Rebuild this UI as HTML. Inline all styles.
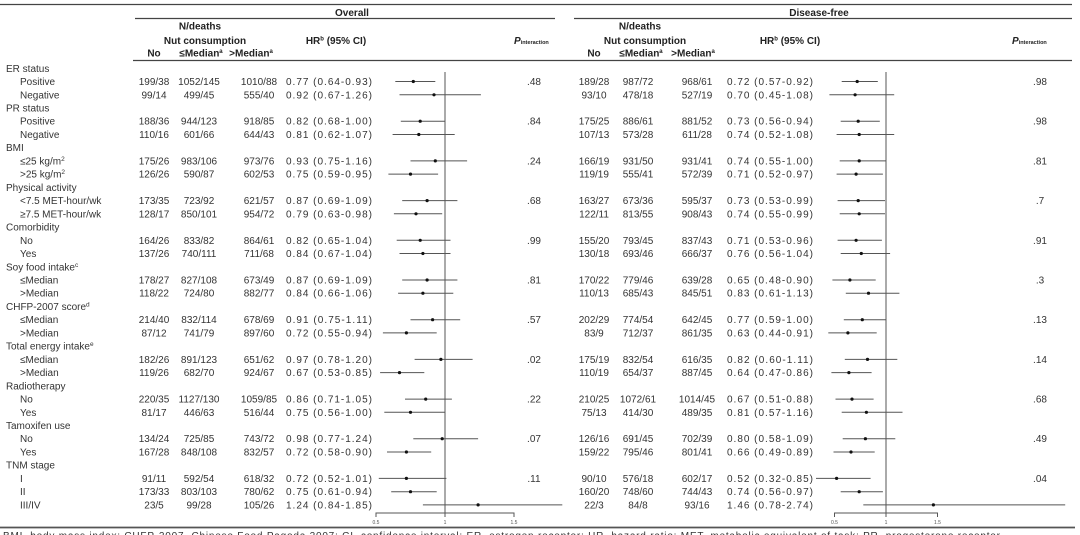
<!DOCTYPE html>
<html>
<head>
<meta charset="utf-8">
<style>
  html,body{margin:0;padding:0;background:#fff;}
  svg{display:block;}
  text{font-family:"Liberation Sans",Arial,sans-serif;font-size:10px;fill:#333;}
  .b{font-weight:bold;fill:#222;}
  .m{text-anchor:middle;}
  .e{text-anchor:end;}
  .t{font-size:5px;fill:#555;text-anchor:middle;}
  .ln{stroke:#555;stroke-width:1;fill:none;}
  .rule{stroke:#444;stroke-width:1.2;}
</style>
</head>
<body>
<svg width="1080" height="535" viewBox="0 0 1080 535" xmlns="http://www.w3.org/2000/svg">
<!-- header rules -->
<line class="rule" x1="0" y1="4.5" x2="1072" y2="4.5"/>
<line class="rule" x1="135" y1="18.5" x2="555" y2="18.5"/>
<line class="rule" x1="574" y1="18.5" x2="1072" y2="18.5"/>
<line class="rule" x1="133" y1="60.5" x2="1072" y2="60.5"/>
<line x1="0" y1="527.5" x2="1075" y2="527.5" stroke="#555" stroke-width="1.8"/>

<!-- header text -->
<text class="b m" x="352" y="16">Overall</text>
<text class="b m" x="819" y="16">Disease-free</text>
<text class="b m" x="200" y="29.5">N/deaths</text>
<text class="b m" x="205" y="44">Nut consumption</text>
<text class="b m" x="640" y="29.5">N/deaths</text>
<text class="b m" x="645" y="44">Nut consumption</text>
<text class="b m" x="154" y="56.5">No</text>
<text class="b m" x="201" y="56.5">≤Median<tspan font-size="6" dy="-3.5">a</tspan></text>
<text class="b m" x="251" y="56.5">&gt;Median<tspan font-size="6" dy="-3.5">a</tspan></text>
<text class="b m" x="594" y="56.5">No</text>
<text class="b m" x="641" y="56.5">≤Median<tspan font-size="6" dy="-3.5">a</tspan></text>
<text class="b m" x="693" y="56.5">&gt;Median<tspan font-size="6" dy="-3.5">a</tspan></text>
<text class="b m" x="336" y="44">HR<tspan font-size="6" dy="-3.5">b</tspan><tspan dy="3.5"> (95% CI)</tspan></text>
<text class="b m" x="790" y="44">HR<tspan font-size="6" dy="-3.5">b</tspan><tspan dy="3.5"> (95% CI)</tspan></text>
<text class="b" x="514" y="44" font-style="italic">P<tspan font-size="5.5" font-style="normal">interaction</tspan></text>
<text class="b" x="1012" y="44" font-style="italic">P<tspan font-size="5.5" font-style="normal">interaction</tspan></text>

<!-- row labels -->
<g>
<text x="6" y="71.8">ER status</text>
<text x="20" y="85.0">Positive</text>
<text x="20" y="98.3">Negative</text>
<text x="6" y="111.5">PR status</text>
<text x="20" y="124.7">Positive</text>
<text x="20" y="138.0">Negative</text>
<text x="6" y="151.2">BMI</text>
<text x="20" y="164.4">≤25 kg/m<tspan font-size="6.5" dy="-3.5">2</tspan></text>
<text x="20" y="177.6">&gt;25 kg/m<tspan font-size="6.5" dy="-3.5">2</tspan></text>
<text x="6" y="190.9">Physical activity</text>
<text x="20" y="204.1">&lt;7.5 MET-hour/wk</text>
<text x="20" y="217.3">≥7.5 MET-hour/wk</text>
<text x="6" y="230.6">Comorbidity</text>
<text x="20" y="243.8">No</text>
<text x="20" y="257.0">Yes</text>
<text x="6" y="270.3">Soy food intake<tspan font-size="6.5" dy="-3.5">c</tspan></text>
<text x="20" y="283.5">≤Median</text>
<text x="20" y="296.7">&gt;Median</text>
<text x="6" y="309.9">CHFP-2007 score<tspan font-size="6.5" dy="-3.5">d</tspan></text>
<text x="20" y="323.2">≤Median</text>
<text x="20" y="336.4">&gt;Median</text>
<text x="6" y="349.6">Total energy intake<tspan font-size="6.5" dy="-3.5">e</tspan></text>
<text x="20" y="362.9">≤Median</text>
<text x="20" y="376.1">&gt;Median</text>
<text x="6" y="389.3">Radiotherapy</text>
<text x="20" y="402.6">No</text>
<text x="20" y="415.8">Yes</text>
<text x="6" y="429.0">Tamoxifen use</text>
<text x="20" y="442.2">No</text>
<text x="20" y="455.5">Yes</text>
<text x="6" y="468.7">TNM stage</text>
<text x="20" y="481.9">I</text>
<text x="20" y="495.2">II</text>
<text x="20" y="508.4">III/IV</text>
</g>

<!-- Overall: No column -->
<g class="m">
<text class="m" x="154" y="85.0">199/38</text>
<text class="m" x="154" y="98.3">99/14</text>
<text class="m" x="154" y="124.7">188/36</text>
<text class="m" x="154" y="138.0">110/16</text>
<text class="m" x="154" y="164.4">175/26</text>
<text class="m" x="154" y="177.6">126/26</text>
<text class="m" x="154" y="204.1">173/35</text>
<text class="m" x="154" y="217.3">128/17</text>
<text class="m" x="154" y="243.8">164/26</text>
<text class="m" x="154" y="257.0">137/26</text>
<text class="m" x="154" y="283.5">178/27</text>
<text class="m" x="154" y="296.7">118/22</text>
<text class="m" x="154" y="323.2">214/40</text>
<text class="m" x="154" y="336.4">87/12</text>
<text class="m" x="154" y="362.9">182/26</text>
<text class="m" x="154" y="376.1">119/26</text>
<text class="m" x="154" y="402.6">220/35</text>
<text class="m" x="154" y="415.8">81/17</text>
<text class="m" x="154" y="442.2">134/24</text>
<text class="m" x="154" y="455.5">167/28</text>
<text class="m" x="154" y="481.9">91/11</text>
<text class="m" x="154" y="495.2">173/33</text>
<text class="m" x="154" y="508.4">23/5</text>
</g>
<!-- Overall: <=Median -->
<g>
<text class="m" x="199" y="85.0">1052/145</text>
<text class="m" x="199" y="98.3">499/45</text>
<text class="m" x="199" y="124.7">944/123</text>
<text class="m" x="199" y="138.0">601/66</text>
<text class="m" x="199" y="164.4">983/106</text>
<text class="m" x="199" y="177.6">590/87</text>
<text class="m" x="199" y="204.1">723/92</text>
<text class="m" x="199" y="217.3">850/101</text>
<text class="m" x="199" y="243.8">833/82</text>
<text class="m" x="199" y="257.0">740/111</text>
<text class="m" x="199" y="283.5">827/108</text>
<text class="m" x="199" y="296.7">724/80</text>
<text class="m" x="199" y="323.2">832/114</text>
<text class="m" x="199" y="336.4">741/79</text>
<text class="m" x="199" y="362.9">891/123</text>
<text class="m" x="199" y="376.1">682/70</text>
<text class="m" x="199" y="402.6">1127/130</text>
<text class="m" x="199" y="415.8">446/63</text>
<text class="m" x="199" y="442.2">725/85</text>
<text class="m" x="199" y="455.5">848/108</text>
<text class="m" x="199" y="481.9">592/54</text>
<text class="m" x="199" y="495.2">803/103</text>
<text class="m" x="199" y="508.4">99/28</text>
</g>
<!-- Overall: >Median -->
<g>
<text class="m" x="259" y="85.0">1010/88</text>
<text class="m" x="259" y="98.3">555/40</text>
<text class="m" x="259" y="124.7">918/85</text>
<text class="m" x="259" y="138.0">644/43</text>
<text class="m" x="259" y="164.4">973/76</text>
<text class="m" x="259" y="177.6">602/53</text>
<text class="m" x="259" y="204.1">621/57</text>
<text class="m" x="259" y="217.3">954/72</text>
<text class="m" x="259" y="243.8">864/61</text>
<text class="m" x="259" y="257.0">711/68</text>
<text class="m" x="259" y="283.5">673/49</text>
<text class="m" x="259" y="296.7">882/77</text>
<text class="m" x="259" y="323.2">678/69</text>
<text class="m" x="259" y="336.4">897/60</text>
<text class="m" x="259" y="362.9">651/62</text>
<text class="m" x="259" y="376.1">924/67</text>
<text class="m" x="259" y="402.6">1059/85</text>
<text class="m" x="259" y="415.8">516/44</text>
<text class="m" x="259" y="442.2">743/72</text>
<text class="m" x="259" y="455.5">832/57</text>
<text class="m" x="259" y="481.9">618/32</text>
<text class="m" x="259" y="495.2">780/62</text>
<text class="m" x="259" y="508.4">105/26</text>
</g>
<!-- Overall HR -->
<g>
<text x="286" y="85.0" textLength="86" lengthAdjust="spacing">0.77 (0.64-0.93)</text>
<text x="286" y="98.3" textLength="86" lengthAdjust="spacing">0.92 (0.67-1.26)</text>
<text x="286" y="124.7" textLength="86" lengthAdjust="spacing">0.82 (0.68-1.00)</text>
<text x="286" y="138.0" textLength="86" lengthAdjust="spacing">0.81 (0.62-1.07)</text>
<text x="286" y="164.4" textLength="86" lengthAdjust="spacing">0.93 (0.75-1.16)</text>
<text x="286" y="177.6" textLength="86" lengthAdjust="spacing">0.75 (0.59-0.95)</text>
<text x="286" y="204.1" textLength="86" lengthAdjust="spacing">0.87 (0.69-1.09)</text>
<text x="286" y="217.3" textLength="86" lengthAdjust="spacing">0.79 (0.63-0.98)</text>
<text x="286" y="243.8" textLength="86" lengthAdjust="spacing">0.82 (0.65-1.04)</text>
<text x="286" y="257.0" textLength="86" lengthAdjust="spacing">0.84 (0.67-1.04)</text>
<text x="286" y="283.5" textLength="86" lengthAdjust="spacing">0.87 (0.69-1.09)</text>
<text x="286" y="296.7" textLength="86" lengthAdjust="spacing">0.84 (0.66-1.06)</text>
<text x="286" y="323.2" textLength="86" lengthAdjust="spacing">0.91 (0.75-1.11)</text>
<text x="286" y="336.4" textLength="86" lengthAdjust="spacing">0.72 (0.55-0.94)</text>
<text x="286" y="362.9" textLength="86" lengthAdjust="spacing">0.97 (0.78-1.20)</text>
<text x="286" y="376.1" textLength="86" lengthAdjust="spacing">0.67 (0.53-0.85)</text>
<text x="286" y="402.6" textLength="86" lengthAdjust="spacing">0.86 (0.71-1.05)</text>
<text x="286" y="415.8" textLength="86" lengthAdjust="spacing">0.75 (0.56-1.00)</text>
<text x="286" y="442.2" textLength="86" lengthAdjust="spacing">0.98 (0.77-1.24)</text>
<text x="286" y="455.5" textLength="86" lengthAdjust="spacing">0.72 (0.58-0.90)</text>
<text x="286" y="481.9" textLength="86" lengthAdjust="spacing">0.72 (0.52-1.01)</text>
<text x="286" y="495.2" textLength="86" lengthAdjust="spacing">0.75 (0.61-0.94)</text>
<text x="286" y="508.4" textLength="86" lengthAdjust="spacing">1.24 (0.84-1.85)</text>
</g>
<!-- Overall P -->
<g>
<text class="m" x="534" y="85.0">.48</text>
<text class="m" x="534" y="124.7">.84</text>
<text class="m" x="534" y="164.4">.24</text>
<text class="m" x="534" y="204.1">.68</text>
<text class="m" x="534" y="243.8">.99</text>
<text class="m" x="534" y="283.5">.81</text>
<text class="m" x="534" y="323.2">.57</text>
<text class="m" x="534" y="362.9">.02</text>
<text class="m" x="534" y="402.6">.22</text>
<text class="m" x="534" y="442.2">.07</text>
<text class="m" x="534" y="481.9">.11</text>
</g>

<!-- DF: No -->
<g>
<text class="m" x="594" y="85.0">189/28</text>
<text class="m" x="594" y="98.3">93/10</text>
<text class="m" x="594" y="124.7">175/25</text>
<text class="m" x="594" y="138.0">107/13</text>
<text class="m" x="594" y="164.4">166/19</text>
<text class="m" x="594" y="177.6">119/19</text>
<text class="m" x="594" y="204.1">163/27</text>
<text class="m" x="594" y="217.3">122/11</text>
<text class="m" x="594" y="243.8">155/20</text>
<text class="m" x="594" y="257.0">130/18</text>
<text class="m" x="594" y="283.5">170/22</text>
<text class="m" x="594" y="296.7">110/13</text>
<text class="m" x="594" y="323.2">202/29</text>
<text class="m" x="594" y="336.4">83/9</text>
<text class="m" x="594" y="362.9">175/19</text>
<text class="m" x="594" y="376.1">110/19</text>
<text class="m" x="594" y="402.6">210/25</text>
<text class="m" x="594" y="415.8">75/13</text>
<text class="m" x="594" y="442.2">126/16</text>
<text class="m" x="594" y="455.5">159/22</text>
<text class="m" x="594" y="481.9">90/10</text>
<text class="m" x="594" y="495.2">160/20</text>
<text class="m" x="594" y="508.4">22/3</text>
</g>
<!-- DF: <=Median -->
<g>
<text class="m" x="638" y="85.0">987/72</text>
<text class="m" x="638" y="98.3">478/18</text>
<text class="m" x="638" y="124.7">886/61</text>
<text class="m" x="638" y="138.0">573/28</text>
<text class="m" x="638" y="164.4">931/50</text>
<text class="m" x="638" y="177.6">555/41</text>
<text class="m" x="638" y="204.1">673/36</text>
<text class="m" x="638" y="217.3">813/55</text>
<text class="m" x="638" y="243.8">793/45</text>
<text class="m" x="638" y="257.0">693/46</text>
<text class="m" x="638" y="283.5">779/46</text>
<text class="m" x="638" y="296.7">685/43</text>
<text class="m" x="638" y="323.2">774/54</text>
<text class="m" x="638" y="336.4">712/37</text>
<text class="m" x="638" y="362.9">832/54</text>
<text class="m" x="638" y="376.1">654/37</text>
<text class="m" x="638" y="402.6">1072/61</text>
<text class="m" x="638" y="415.8">414/30</text>
<text class="m" x="638" y="442.2">691/45</text>
<text class="m" x="638" y="455.5">795/46</text>
<text class="m" x="638" y="481.9">576/18</text>
<text class="m" x="638" y="495.2">748/60</text>
<text class="m" x="638" y="508.4">84/8</text>
</g>
<!-- DF: >Median -->
<g>
<text class="m" x="697" y="85.0">968/61</text>
<text class="m" x="697" y="98.3">527/19</text>
<text class="m" x="697" y="124.7">881/52</text>
<text class="m" x="697" y="138.0">611/28</text>
<text class="m" x="697" y="164.4">931/41</text>
<text class="m" x="697" y="177.6">572/39</text>
<text class="m" x="697" y="204.1">595/37</text>
<text class="m" x="697" y="217.3">908/43</text>
<text class="m" x="697" y="243.8">837/43</text>
<text class="m" x="697" y="257.0">666/37</text>
<text class="m" x="697" y="283.5">639/28</text>
<text class="m" x="697" y="296.7">845/51</text>
<text class="m" x="697" y="323.2">642/45</text>
<text class="m" x="697" y="336.4">861/35</text>
<text class="m" x="697" y="362.9">616/35</text>
<text class="m" x="697" y="376.1">887/45</text>
<text class="m" x="697" y="402.6">1014/45</text>
<text class="m" x="697" y="415.8">489/35</text>
<text class="m" x="697" y="442.2">702/39</text>
<text class="m" x="697" y="455.5">801/41</text>
<text class="m" x="697" y="481.9">602/17</text>
<text class="m" x="697" y="495.2">744/43</text>
<text class="m" x="697" y="508.4">93/16</text>
</g>
<!-- DF HR -->
<g>
<text x="727" y="85.0" textLength="86" lengthAdjust="spacing">0.72 (0.57-0.92)</text>
<text x="727" y="98.3" textLength="86" lengthAdjust="spacing">0.70 (0.45-1.08)</text>
<text x="727" y="124.7" textLength="86" lengthAdjust="spacing">0.73 (0.56-0.94)</text>
<text x="727" y="138.0" textLength="86" lengthAdjust="spacing">0.74 (0.52-1.08)</text>
<text x="727" y="164.4" textLength="86" lengthAdjust="spacing">0.74 (0.55-1.00)</text>
<text x="727" y="177.6" textLength="86" lengthAdjust="spacing">0.71 (0.52-0.97)</text>
<text x="727" y="204.1" textLength="86" lengthAdjust="spacing">0.73 (0.53-0.99)</text>
<text x="727" y="217.3" textLength="86" lengthAdjust="spacing">0.74 (0.55-0.99)</text>
<text x="727" y="243.8" textLength="86" lengthAdjust="spacing">0.71 (0.53-0.96)</text>
<text x="727" y="257.0" textLength="86" lengthAdjust="spacing">0.76 (0.56-1.04)</text>
<text x="727" y="283.5" textLength="86" lengthAdjust="spacing">0.65 (0.48-0.90)</text>
<text x="727" y="296.7" textLength="86" lengthAdjust="spacing">0.83 (0.61-1.13)</text>
<text x="727" y="323.2" textLength="86" lengthAdjust="spacing">0.77 (0.59-1.00)</text>
<text x="727" y="336.4" textLength="86" lengthAdjust="spacing">0.63 (0.44-0.91)</text>
<text x="727" y="362.9" textLength="86" lengthAdjust="spacing">0.82 (0.60-1.11)</text>
<text x="727" y="376.1" textLength="86" lengthAdjust="spacing">0.64 (0.47-0.86)</text>
<text x="727" y="402.6" textLength="86" lengthAdjust="spacing">0.67 (0.51-0.88)</text>
<text x="727" y="415.8" textLength="86" lengthAdjust="spacing">0.81 (0.57-1.16)</text>
<text x="727" y="442.2" textLength="86" lengthAdjust="spacing">0.80 (0.58-1.09)</text>
<text x="727" y="455.5" textLength="86" lengthAdjust="spacing">0.66 (0.49-0.89)</text>
<text x="727" y="481.9" textLength="86" lengthAdjust="spacing">0.52 (0.32-0.85)</text>
<text x="727" y="495.2" textLength="86" lengthAdjust="spacing">0.74 (0.56-0.97)</text>
<text x="727" y="508.4" textLength="86" lengthAdjust="spacing">1.46 (0.78-2.74)</text>
</g>
<!-- DF P -->
<g>
<text class="m" x="1040" y="85.0">.98</text>
<text class="m" x="1040" y="124.7">.98</text>
<text class="m" x="1040" y="164.4">.81</text>
<text class="m" x="1040" y="204.1">.7</text>
<text class="m" x="1040" y="243.8">.91</text>
<text class="m" x="1040" y="283.5">.3</text>
<text class="m" x="1040" y="323.2">.13</text>
<text class="m" x="1040" y="362.9">.14</text>
<text class="m" x="1040" y="402.6">.68</text>
<text class="m" x="1040" y="442.2">.49</text>
<text class="m" x="1040" y="481.9">.04</text>
</g>

<!-- Overall forest -->
<g class="ln">
<line x1="445" y1="72" x2="445" y2="517"/>
<polyline points="376,517 376,513 514,513 514,517"/>
<line x1="395.3" y1="81.5" x2="435.3" y2="81.5"/>
<line x1="399.5" y1="94.8" x2="480.9" y2="94.8"/>
<line x1="400.8" y1="121.2" x2="445" y2="121.2"/>
<line x1="392.6" y1="134.5" x2="454.7" y2="134.5"/>
<line x1="410.5" y1="160.9" x2="467.1" y2="160.9"/>
<line x1="388.4" y1="174.1" x2="438.1" y2="174.1"/>
<line x1="402.2" y1="200.6" x2="457.4" y2="200.6"/>
<line x1="393.9" y1="213.8" x2="442.2" y2="213.8"/>
<line x1="396.7" y1="240.3" x2="450.5" y2="240.3"/>
<line x1="399.5" y1="253.5" x2="450.5" y2="253.5"/>
<line x1="402.2" y1="280.0" x2="457.4" y2="280.0"/>
<line x1="398.1" y1="293.2" x2="453.3" y2="293.2"/>
<line x1="410.5" y1="319.7" x2="460.2" y2="319.7"/>
<line x1="382.9" y1="332.9" x2="436.7" y2="332.9"/>
<line x1="414.6" y1="359.4" x2="472.6" y2="359.4"/>
<line x1="380.1" y1="372.6" x2="424.3" y2="372.6"/>
<line x1="405.0" y1="399.1" x2="451.9" y2="399.1"/>
<line x1="384.3" y1="412.3" x2="445" y2="412.3"/>
<line x1="413.3" y1="438.7" x2="478.1" y2="438.7"/>
<line x1="387.0" y1="452.0" x2="431.2" y2="452.0"/>
<line x1="378.8" y1="478.4" x2="446.4" y2="478.4"/>
<line x1="391.2" y1="491.7" x2="436.7" y2="491.7"/>
<line x1="422.9" y1="504.9" x2="562.3" y2="504.9"/>
</g>
<g fill="#111">
<circle cx="413.3" cy="81.5" r="1.6"/>
<circle cx="434.0" cy="94.8" r="1.6"/>
<circle cx="420.2" cy="121.2" r="1.6"/>
<circle cx="418.8" cy="134.5" r="1.6"/>
<circle cx="435.3" cy="160.9" r="1.6"/>
<circle cx="410.5" cy="174.1" r="1.6"/>
<circle cx="427.1" cy="200.6" r="1.6"/>
<circle cx="416.0" cy="213.8" r="1.6"/>
<circle cx="420.2" cy="240.3" r="1.6"/>
<circle cx="422.9" cy="253.5" r="1.6"/>
<circle cx="427.1" cy="280.0" r="1.6"/>
<circle cx="422.9" cy="293.2" r="1.6"/>
<circle cx="432.6" cy="319.7" r="1.6"/>
<circle cx="406.4" cy="332.9" r="1.6"/>
<circle cx="440.9" cy="359.4" r="1.6"/>
<circle cx="399.5" cy="372.6" r="1.6"/>
<circle cx="425.7" cy="399.1" r="1.6"/>
<circle cx="410.5" cy="412.3" r="1.6"/>
<circle cx="442.2" cy="438.7" r="1.6"/>
<circle cx="406.4" cy="452.0" r="1.6"/>
<circle cx="406.4" cy="478.4" r="1.6"/>
<circle cx="410.5" cy="491.7" r="1.6"/>
<circle cx="478.1" cy="504.9" r="1.6"/>
</g>
<text class="t" x="376" y="524">0.5</text>
<text class="t" x="445" y="524">1</text>
<text class="t" x="514" y="524">1.5</text>

<!-- DF forest -->
<g class="ln">
<line x1="886" y1="72" x2="886" y2="517"/>
<polyline points="834.5,517 834.5,513 937.5,513 937.5,517"/>
<line x1="841.7" y1="81.5" x2="877.8" y2="81.5"/>
<line x1="829.4" y1="94.8" x2="894.2" y2="94.8"/>
<line x1="840.7" y1="121.2" x2="879.8" y2="121.2"/>
<line x1="836.6" y1="134.5" x2="894.2" y2="134.5"/>
<line x1="839.7" y1="160.9" x2="886" y2="160.9"/>
<line x1="836.6" y1="174.1" x2="882.9" y2="174.1"/>
<line x1="837.6" y1="200.6" x2="885.0" y2="200.6"/>
<line x1="839.7" y1="213.8" x2="885.0" y2="213.8"/>
<line x1="837.6" y1="240.3" x2="881.9" y2="240.3"/>
<line x1="840.7" y1="253.5" x2="890.1" y2="253.5"/>
<line x1="832.4" y1="280.0" x2="875.7" y2="280.0"/>
<line x1="845.8" y1="293.2" x2="899.4" y2="293.2"/>
<line x1="843.8" y1="319.7" x2="886" y2="319.7"/>
<line x1="828.3" y1="332.9" x2="876.7" y2="332.9"/>
<line x1="844.8" y1="359.4" x2="897.3" y2="359.4"/>
<line x1="831.4" y1="372.6" x2="871.6" y2="372.6"/>
<line x1="835.5" y1="399.1" x2="873.6" y2="399.1"/>
<line x1="841.7" y1="412.3" x2="902.5" y2="412.3"/>
<line x1="842.7" y1="438.7" x2="895.3" y2="438.7"/>
<line x1="833.5" y1="452.0" x2="874.7" y2="452.0"/>
<line x1="816.0" y1="478.4" x2="870.6" y2="478.4"/>
<line x1="840.7" y1="491.7" x2="882.9" y2="491.7"/>
<line x1="863.3" y1="504.9" x2="1065.2" y2="504.9"/>
</g>
<g fill="#111">
<circle cx="857.2" cy="81.5" r="1.6"/>
<circle cx="855.1" cy="94.8" r="1.6"/>
<circle cx="858.2" cy="121.2" r="1.6"/>
<circle cx="859.2" cy="134.5" r="1.6"/>
<circle cx="859.2" cy="160.9" r="1.6"/>
<circle cx="856.1" cy="174.1" r="1.6"/>
<circle cx="858.2" cy="200.6" r="1.6"/>
<circle cx="859.2" cy="213.8" r="1.6"/>
<circle cx="856.1" cy="240.3" r="1.6"/>
<circle cx="861.3" cy="253.5" r="1.6"/>
<circle cx="849.9" cy="280.0" r="1.6"/>
<circle cx="868.5" cy="293.2" r="1.6"/>
<circle cx="862.3" cy="319.7" r="1.6"/>
<circle cx="847.9" cy="332.9" r="1.6"/>
<circle cx="867.5" cy="359.4" r="1.6"/>
<circle cx="848.9" cy="372.6" r="1.6"/>
<circle cx="852.0" cy="399.1" r="1.6"/>
<circle cx="866.4" cy="412.3" r="1.6"/>
<circle cx="865.4" cy="438.7" r="1.6"/>
<circle cx="851.0" cy="452.0" r="1.6"/>
<circle cx="836.6" cy="478.4" r="1.6"/>
<circle cx="859.2" cy="491.7" r="1.6"/>
<circle cx="933.4" cy="504.9" r="1.6"/>
</g>
<text class="t" x="834.5" y="524">0.5</text>
<text class="t" x="886" y="524">1</text>
<text class="t" x="937.5" y="524">1.5</text>

<!-- footnote (cut off at bottom) -->
<text x="3" y="539" font-size="11" textLength="1000" lengthAdjust="spacing">BMI, body mass index; CHFP-2007, Chinese Food Pagoda 2007; CI, confidence interval; ER, estrogen receptor; HR, hazard ratio; MET, metabolic equivalent of task; PR, progesterone receptor.</text>
</svg>
</body>
</html>
